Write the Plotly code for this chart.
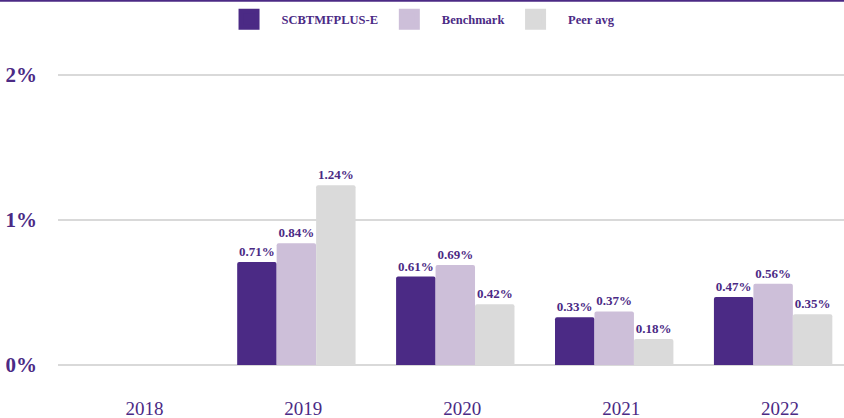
import plotly.graph_objects as go

years = ["2018", "2019", "2020", "2021", "2022"]
fund = [None, 0.71, 0.61, 0.33, 0.47]
benchmark = [None, 0.84, 0.69, 0.37, 0.56]
peer = [None, 1.24, 0.42, 0.18, 0.35]
series_names = ["SCBTMFPLUS-E", "Benchmark", "Peer avg"]
colors = ["#4B2A85", "#CDBFD9", "#DADADA"]
ytick_vals = [0, 1, 2]
ytick_text = ["0%", "1%", "2%"]

TXT = "#4B2A85"
FONT = "Liberation Serif, Times New Roman, serif"
LEAD = "\u00a0" * 4
TRAIL = "\u00a0" * 2

fig = go.Figure()
for name, vals, c in zip(series_names, [fund, benchmark, peer], colors):
    fig.add_trace(go.Bar(
        x=years, y=vals, name=name, marker=dict(color=c, cornerradius=2, line=dict(width=0)),
        texttemplate="%{y:.2f}%", textposition="outside", cliponaxis=False,
        textfont=dict(family=FONT, size=13, color=TXT, weight="bold"),
        showlegend=False, hoverinfo="skip",
    ))
    fig.add_trace(go.Scatter(
        x=[None], y=[None], mode="markers", name=LEAD + name + TRAIL,
        marker=dict(symbol="square", size=16, color=c, line=dict(color=c, width=5)),
        showlegend=True,
    ))

fig.update_layout(
    width=844, height=418,
    margin=dict(l=58, r=0, t=72, b=50),
    paper_bgcolor="white", plot_bgcolor="white",
    barmode="group", bargap=0.255, bargroupgap=0,
    font=dict(family=FONT, color=TXT),
    legend=dict(orientation="h", x=0.2176, xanchor="left", y=0.953, yanchor="middle",
                yref="container", font=dict(family=FONT, size=12.5, color=TXT, weight="bold"),
                itemwidth=30, traceorder="normal"),
    xaxis=dict(type="category", range=[-0.5, 4.446], showgrid=False, showline=False,
               zeroline=False, ticks="", tickfont=dict(family=FONT, size=19, color=TXT),
               ticklabelstandoff=27, ticklabelshift=7, automargin=False),
    yaxis=dict(range=[-0.02, 2.02], tickvals=ytick_vals, ticktext=ytick_text,
               showgrid=True, gridcolor="#D9D9D9", gridwidth=2, zeroline=False,
               showline=False, ticks="", ticklabelstandoff=20, automargin=False,
               tickfont=dict(family=FONT, size=21, color=TXT, weight="bold")),
    shapes=[dict(type="line", xref="paper", yref="paper", x0=-0.1, x1=1.1,
                 y0=1.2416, y1=1.2416, line=dict(color=TXT, width=2.5))],
)

fig.write_html("out.html", config={"displayModeBar": False},
               post_script="document.body.style.margin='0px';")
